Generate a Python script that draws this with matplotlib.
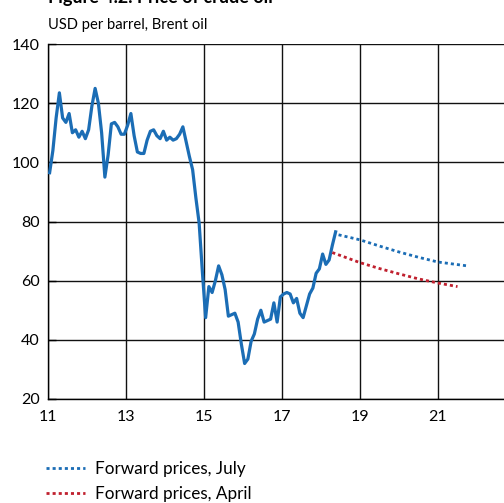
import numpy as np
import matplotlib
matplotlib.use("Agg")
import matplotlib.pyplot as plt

plt.rcParams['font.family'] = ['Lato', 'DejaVu Sans']

# Monthly Brent spot price, USD per barrel, Jan 2011 - May 2018
brent_2011 = [96.5, 104, 115, 123.5, 115, 113.5, 116.5, 110, 111, 108.5, 110.5, 108]
brent_2012 = [111, 119, 125, 120, 110, 95, 102.5, 113, 113.5, 112, 109.5, 109.5]
brent_2013 = [112.5, 116.5, 109, 103.5, 103, 103, 107.5, 110.5, 111, 109, 108, 110.5]
brent_2014 = [107.5, 108.5, 107.5, 108, 109.5, 112, 107, 102, 97.5, 88, 79.5, 63]
brent_2015 = [47.5, 58, 56, 60, 65, 62, 57, 48, 48.5, 49, 46, 38.5]
brent_2016 = [32, 33.5, 39.5, 42, 47, 50, 46, 46.5, 47, 52.5, 46, 54.5]
brent_2017 = [55.5, 56, 55.5, 52.5, 54, 49, 47.5, 51.5, 55.5, 57.5, 62.5, 64]
brent_2018 = [69, 65.5, 67, 72, 76.5]
brent = (brent_2011 + brent_2012 + brent_2013 + brent_2014 + brent_2015
         + brent_2016 + brent_2017 + brent_2018)
first_year = 11

# Forward curves (year, USD per barrel)
fwd_july_x = [18.45, 19.0, 19.5, 20.0, 20.5, 21.0, 21.75]
fwd_july_y = [75.5, 73.8, 71.7, 69.7, 67.9, 66.3, 65.0]
fwd_april_x = [18.29, 19.0, 19.5, 20.0, 20.5, 21.0, 21.5]
fwd_april_y = [69.5, 66.1, 64.1, 62.3, 60.6, 59.2, 58.0]

xticks = [11, 13, 15, 17, 19, 21]
yticks = [20, 40, 60, 80, 100, 120, 140]

blue = "#1b6db5"
red = "#c0202e"

fig = plt.figure(figsize=(5.04, 5.03), dpi=100)
ax = fig.add_axes([48 / 504, 1 - 399 / 503, 1 - 48 / 504, (399 - 44) / 503])

months = first_year + (np.arange(len(brent)) + 0.5) / 12
ax.plot(months, brent, color=blue, lw=2.3, solid_joinstyle='round', zorder=3)
l_july, = ax.plot(fwd_july_x, fwd_july_y, color=blue, lw=2.0,
                  dashes=(1.1, 1.1), zorder=3)
l_april, = ax.plot(fwd_april_x, fwd_april_y, color=red, lw=2.0,
                   dashes=(1.1, 1.1), zorder=3)

ax.set_xlim(11, 11 + (504 - 48) / 39)
ax.set_ylim(20, 140)
ax.set_xticks(xticks)
ax.set_xticklabels([str(t) for t in xticks])
ax.set_yticks(yticks)
ax.grid(True, color="#111111", lw=1.0)
ax.set_axisbelow(True)
for s in ['top', 'right']:
    ax.spines[s].set_visible(False)
for s in ['left', 'bottom']:
    ax.spines[s].set_color('black')
    ax.spines[s].set_linewidth(1.0)
ax.tick_params(axis='both', labelsize=11.5, direction='in', length=6,
               width=1.0, color='black')
ax.tick_params(axis='x', pad=8, length=0)
ax.tick_params(axis='y', pad=6)

fig.text(48 / 504, 1 - 3.5 / 503, "Figure 4.2. Price of crude oil",
         fontsize=13, fontweight='bold', va='baseline', ha='left')
fig.text(48 / 504, 1 - 29 / 503, "USD per barrel, Brent oil",
         fontsize=10.6, va='baseline', ha='left')

fig.legend([l_july, l_april], ["Forward prices, July", "Forward prices, April"],
           loc='upper left', bbox_to_anchor=(46 / 504, 1 - 461 / 503),
           frameon=False, fontsize=12.3, handlelength=2.3, handletextpad=0.55,
           labelspacing=0.5, borderaxespad=0, borderpad=0)

fig.savefig("out.png", dpi=100)
